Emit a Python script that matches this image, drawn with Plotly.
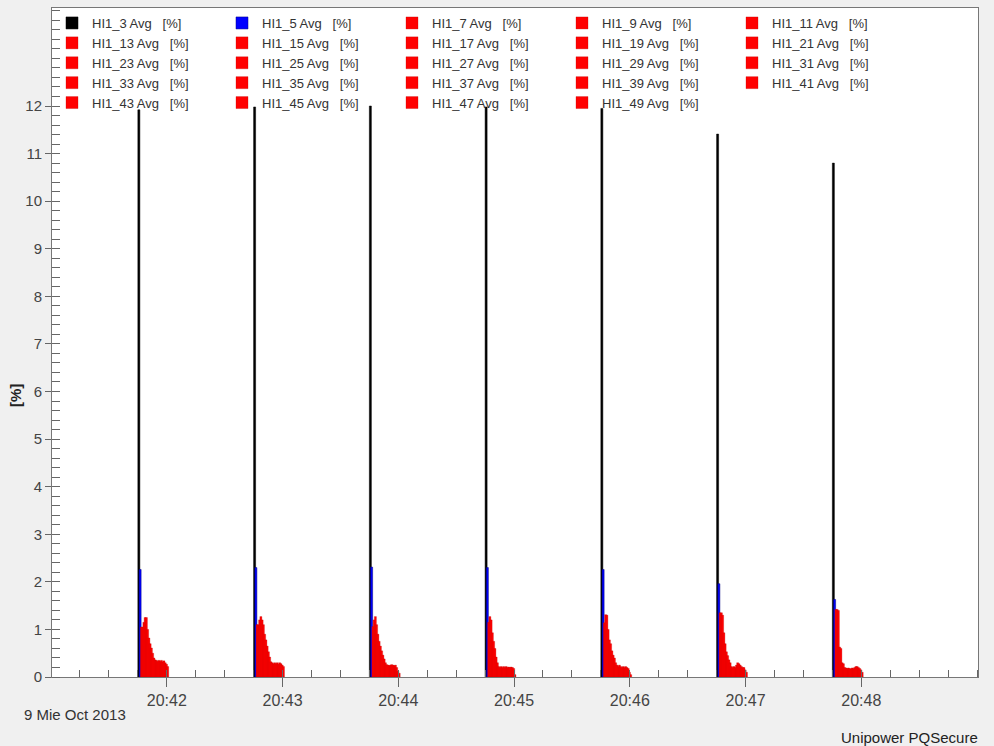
import plotly.graph_objects as go

# ---------------- data ----------------
times = [
    "2013-10-09 20:41:45", "2013-10-09 20:42:45", "2013-10-09 20:43:45",
    "2013-10-09 20:44:45", "2013-10-09 20:45:45", "2013-10-09 20:46:45",
    "2013-10-09 20:47:45",
]
harmonics = [3, 5, 7, 9, 11, 13, 15, 17, 19, 21, 23, 25, 27, 29, 31, 33, 35, 37,
             39, 41, 43, 45, 47, 49]
series_names = ["HI1_%d Avg\u00a0\u00a0 [%%]" % h for h in harmonics]

# values per timestamp, in harmonic order (H3 ... H49), in %
v_2041 = [11.92, 2.26, 1.05, 1.05, 1.15, 1.25, 1.25, 1.00, 0.82, 0.70, 0.61, 0.50,
          0.40, 0.36, 0.35, 0.33, 0.35, 0.33, 0.35, 0.32, 0.34, 0.30, 0.27, 0.22]
v_2042 = [11.98, 2.30, 1.10, 1.10, 1.20, 1.27, 1.20, 1.10, 0.90, 0.78, 0.65, 0.53,
          0.42, 0.32, 0.30, 0.28, 0.30, 0.28, 0.30, 0.27, 0.30, 0.28, 0.25, 0.22]
v_2043 = [12.00, 2.31, 1.06, 1.20, 1.27, 1.10, 0.90, 0.75, 0.65, 0.55, 0.46, 0.38,
          0.30, 0.26, 0.25, 0.24, 0.25, 0.26, 0.25, 0.24, 0.25, 0.20, 0.12, 0.08]
v_2044 = [11.98, 2.30, 1.15, 1.27, 1.20, 0.93, 0.75, 0.60, 0.42, 0.30, 0.22, 0.20,
          0.22, 0.20, 0.22, 0.20, 0.22, 0.20, 0.21, 0.20, 0.21, 0.20, 0.18, 0.05]
v_2045 = [11.95, 2.26, 1.14, 1.31, 1.30, 1.00, 0.78, 0.70, 0.55, 0.46, 0.40, 0.30,
          0.25, 0.22, 0.25, 0.22, 0.20, 0.22, 0.20, 0.22, 0.20, 0.18, 0.10, 0.05]
v_2046 = [11.41, 1.96, 1.35, 1.35, 1.30, 0.93, 0.70, 0.53, 0.45, 0.36, 0.30, 0.22,
          0.20, 0.22, 0.20, 0.25, 0.30, 0.28, 0.25, 0.22, 0.20, 0.20, 0.15, 0.10]
v_2047 = [10.80, 1.63, 1.42, 1.42, 1.40, 0.63, 0.60, 0.30, 0.28, 0.20, 0.19, 0.18,
          0.19, 0.18, 0.17, 0.19, 0.18, 0.20, 0.22, 0.22, 0.20, 0.18, 0.15, 0.10]
per_time = [v_2041, v_2042, v_2043, v_2044, v_2045, v_2046, v_2047]

x_tick_vals = ["2013-10-09 20:42", "2013-10-09 20:43", "2013-10-09 20:44",
               "2013-10-09 20:45", "2013-10-09 20:46", "2013-10-09 20:47",
               "2013-10-09 20:48"]
y_tick_vals = list(range(0, 13))

# ---------------- style ----------------
FONT = "Liberation Sans, Arial, sans-serif"
STEP_MS = 650      # horizontal step between successive harmonic bars
BAR_MS = 1050      # bar width


def colors_for(h):
    if h == 3:
        return "#000000", "#000000", 0.5
    if h == 5:
        return "#0000ff", "#000080", 0.5
    return "#ff0000", "#c00000", 0.3


fig = go.Figure()
for i, (h, name) in enumerate(zip(harmonics, series_names)):
    fill, edge, lw = colors_for(h)
    fig.add_trace(go.Bar(
        x=times,
        y=[vals[i] for vals in per_time],
        name=name,
        width=BAR_MS,
        offset=i * STEP_MS,
        marker=dict(color=fill, line=dict(color=edge, width=lw)),
    ))

fig.update_layout(
    width=994, height=746,
    margin=dict(l=52, r=16, t=8, b=69),
    paper_bgcolor="#f0f0f0",
    plot_bgcolor="#ffffff",
    barmode="overlay",
    font=dict(family=FONT, size=15, color="#333333"),
    showlegend=True,
    legend=dict(
        orientation="h",
        x=0.0, y=1.0, xanchor="left", yanchor="top",
        bgcolor="rgba(255,255,255,0)",
        borderwidth=0,
        entrywidth=125, entrywidthmode="pixels",
        font=dict(family=FONT, size=13, color="#333333"),
        traceorder="normal",
        tracegroupgap=0,
    ),
    xaxis=dict(
        type="date",
        range=["2013-10-09 20:41:00.5", "2013-10-09 20:49:00.5"],
        tickmode="array", tickvals=x_tick_vals,
        tickformat="%H:%M",
        ticks="outside", ticklen=9, tickcolor="#666666",
        showgrid=False, zeroline=False,
        showline=True, linecolor="#777777", linewidth=1, mirror=True,
        tickfont=dict(family=FONT, size=16, color="#444444"),
        minor=dict(tickmode="linear", dtick=15000, tick0="2013-10-09 20:41:00",
                   ticks="inside", ticklen=7, tickcolor="#666666", showgrid=False),
    ),
    yaxis=dict(
        range=[0, 14.06],
        tickmode="array", tickvals=y_tick_vals,
        ticks="outside", ticklen=6, tickcolor="#666666",
        showgrid=False, zeroline=False,
        showline=True, linecolor="#777777", linewidth=1, mirror=True,
        tickfont=dict(family=FONT, size=15, color="#444444"),
        minor=dict(tickmode="linear", tick0=0, dtick=0.2, ticks="inside",
                   ticklen=8, tickcolor="#666666", showgrid=False),
    ),
    annotations=[
        dict(text="<b>[%]</b>", xref="paper", yref="paper",
             x=-0.040, y=0.4215, xanchor="center", yanchor="middle",
             textangle=-90, showarrow=False,
             font=dict(family=FONT, size=15, color="#222222")),
        dict(text="9 Mie Oct 2013", xref="paper", yref="paper",
             x=-0.0324, y=-0.0568, xanchor="left", yanchor="middle",
             showarrow=False, font=dict(family=FONT, size=15, color="#333333")),
        dict(text="Unipower PQSecure", xref="paper", yref="paper",
             x=1.0022, y=-0.0897, xanchor="right", yanchor="middle",
             showarrow=False, font=dict(family=FONT, size=15, color="#222222")),
    ],
)

fig.write_html(
    "out.html",
    config={"displayModeBar": False},
    post_script="document.body.style.margin='0';document.body.style.padding='0';",
)
